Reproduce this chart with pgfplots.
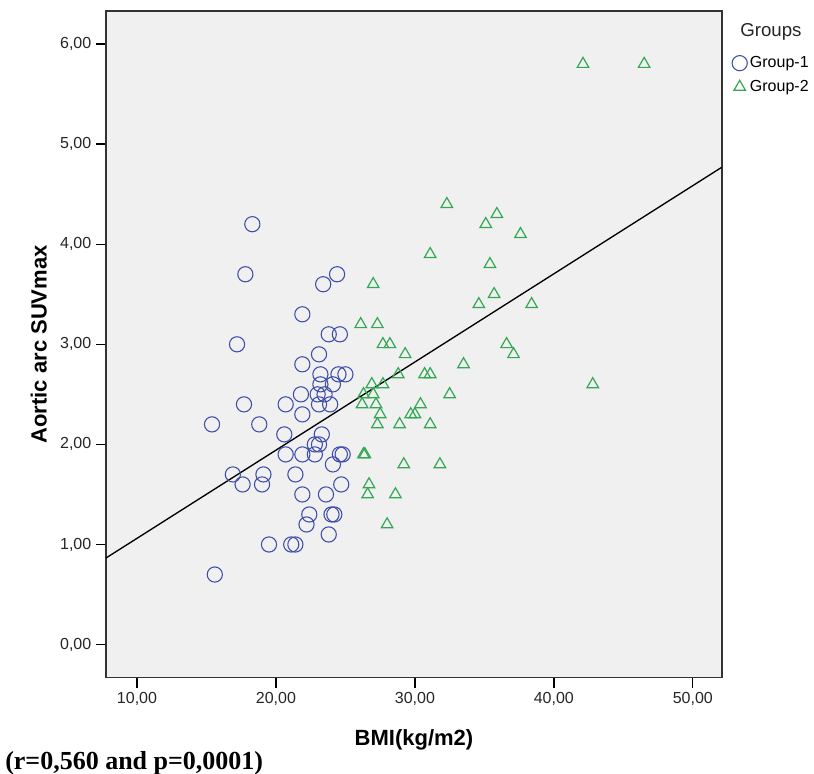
\documentclass[border=0pt]{standalone}
\usepackage{fontspec}
\setmainfont{Liberation Sans}
\newfontfamily\capfont{Liberation Serif}
\usepackage{pgfplots}
\pgfplotsset{compat=1.18}
\definecolor{plotbg}{HTML}{F0F0F0}
\definecolor{grpone}{HTML}{3D4DA8}
\definecolor{grptwo}{HTML}{33A852}
\definecolor{frame}{HTML}{333333}

% group 1: BMI vs aortic arc SUVmax
\pgfplotstableread{
x y
18.3 4.2
17.8 3.7
23.4 3.6
24.4 3.7
21.9 3.3
23.8 3.1
24.6 3.1
17.2 3.0
23.1 2.9
21.9 2.8
23.2 2.7
24.5 2.7
25.0 2.7
23.2 2.6
24.1 2.6
21.8 2.5
23.0 2.5
23.5 2.5
20.7 2.4
17.7 2.4
23.1 2.4
23.9 2.4
15.4 2.2
18.8 2.2
21.9 2.3
20.6 2.1
23.3 2.1
22.8 2.0
23.1 2.0
20.7 1.9
21.9 1.9
22.8 1.9
24.6 1.9
24.8 1.9
24.1 1.8
16.9 1.7
19.1 1.7
21.4 1.7
17.6 1.6
19.0 1.6
24.7 1.6
21.9 1.5
23.6 1.5
22.4 1.3
24.0 1.3
24.2 1.3
22.2 1.2
23.8 1.1
19.5 1.0
21.1 1.0
21.4 1.0
15.6 0.7
}\groupone

% group 2
\pgfplotstableread{
x y
42.1 5.8
46.5 5.8
32.3 4.4
35.9 4.3
35.1 4.2
37.6 4.1
31.1 3.9
35.4 3.8
27.0 3.6
35.7 3.5
34.6 3.4
38.4 3.4
26.1 3.2
27.3 3.2
27.7 3.0
28.2 3.0
36.6 3.0
29.3 2.9
37.1 2.9
33.5 2.8
28.8 2.7
30.7 2.7
31.1 2.7
26.9 2.6
27.7 2.6
42.8 2.6
26.3 2.5
27.0 2.5
32.5 2.5
26.2 2.4
27.2 2.4
30.4 2.4
27.5 2.3
29.7 2.3
30.0 2.3
27.3 2.2
28.9 2.2
31.1 2.2
26.3 1.9
26.4 1.9
29.2 1.8
31.8 1.8
26.7 1.6
26.6 1.5
28.6 1.5
28.0 1.2
}\grouptwo

\begin{document}
\begin{tikzpicture}
\begin{axis}[
  name=ax,
  scale only axis,
  width=462pt, height=500pt,
  xmin=7.77, xmax=52.1,
  ymin=-0.33, ymax=6.33,
  xtick={10,20,30,40,50},
  ytick={0,1,2,3,4,5,6},
  xtick pos=left, ytick pos=left,
  tick align=outside,
  major tick length=7.5pt,
  every tick/.style={black, line width=1pt},
  axis line style={frame, line width=1.2pt},
  axis background/.style={fill=plotbg},
  tick label style={font=\fontsize{12}{14}\selectfont, text=black!85},
  /pgf/number format/.cd, fixed, fixed zerofill, precision=2, use comma,
  assume math mode=true,
  /pgfplots/.cd,
  xlabel={\textbf{BMI(kg/m2)}},
  ylabel={\textbf{Aortic arc SUVmax}},
  label style={font=\fontsize{16.5}{18}\selectfont},
  xlabel style={at={(axis description cs:0.5,-0.093)}, anchor=center},
  ylabel style={at={(axis description cs:-0.109,0.5)}, anchor=center},
  legend style={at={(1.016,0.936)}, anchor=north west, draw=none,
    fill=none, font=\fontsize{12}{14}\selectfont, row sep=4pt,
    inner sep=0pt, cells={anchor=west}},
  legend image code/.code={\draw[#1] plot coordinates {(0.2cm,0cm)};},
  clip=false,
]
\addplot[forget plot, black, line width=1pt, no marks]
  coordinates {(7.77,0.865) (52.1,4.77)};
\addplot[only marks, mark=o, mark size=5.7pt, grpone,
  mark options={line width=0.8pt}] table[x=x, y=y] {\groupone};
\addplot[only marks, mark=triangle, mark size=5pt, grptwo,
  mark options={line width=0.9pt}] table[x=x, y=y] {\grouptwo};
\legend{Group-1, Group-2}
\node[font=\fontsize{14}{16}\selectfont, text=black!85]
  at (axis description cs:1.0795,0.9685) {Groups};
\node[font=\capfont\bfseries\fontsize{19.5}{21}\selectfont, anchor=base west,
  inner sep=0pt] at (axis description cs:-0.164,-0.138)
  {(r=0,560 and p=0,0001)};
\coordinate (bbSW) at (axis description cs:-0.1721,-0.1439);
\coordinate (bbNE) at (axis description cs:1.1494,1.0165);
\end{axis}
\pgfresetboundingbox
\path[use as bounding box] (bbSW) rectangle (bbNE);
\end{tikzpicture}
\end{document}
